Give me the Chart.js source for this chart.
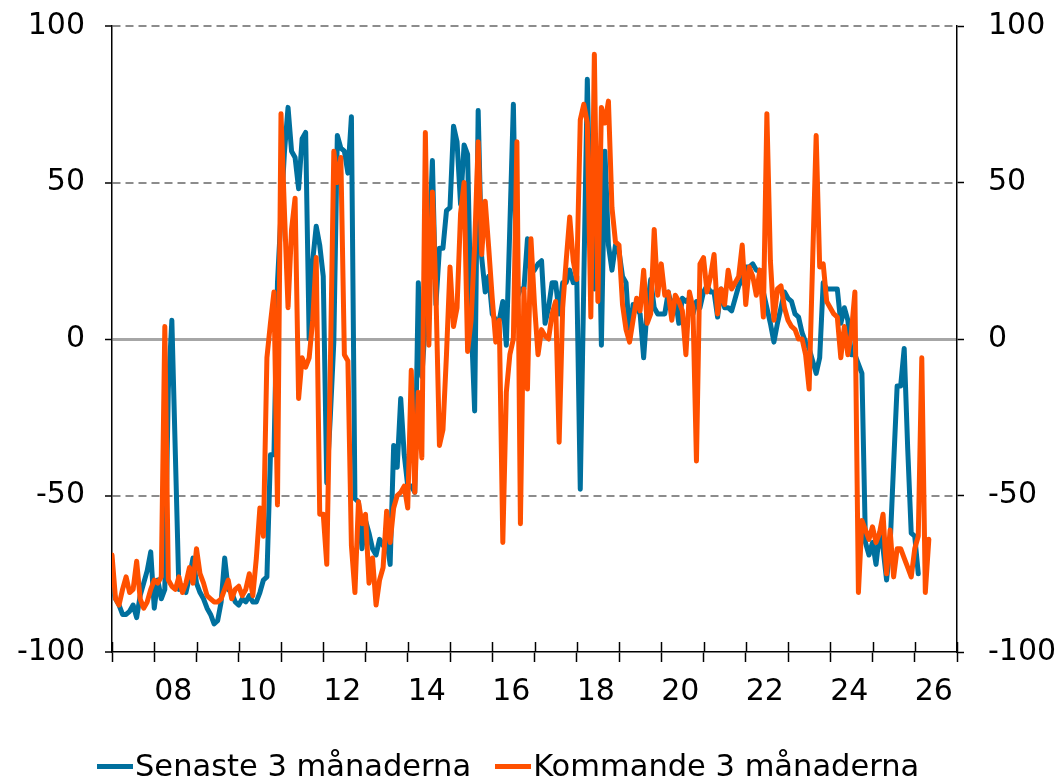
<!DOCTYPE html>
<html>
<head>
<meta charset="utf-8">
<script src="https://cdn.jsdelivr.net/npm/chart.js@4.4.1/dist/chart.umd.min.js"></script>
<style>
  html, body { margin: 0; padding: 0; background: #ffffff; }
  #wrap { position: relative; width: 1061px; height: 782px; overflow: hidden; }
  #legend { position: absolute; left: 97px; top: 748px; display: flex; align-items: center;
            font-family: 'DejaVu Sans', Verdana, sans-serif; font-size: 30.5px; line-height: 36px;
            color: #000; white-space: nowrap; }
  .item { display: flex; align-items: center; }
  .item + .item { margin-left: 24px; }
  .swatch { width: 36px; height: 5px; margin-right: 2px; }
</style>
</head>
<body>
<div id="wrap">
  <canvas id="c" width="1061" height="782"></canvas>
  <div id="legend"></div>
</div>
<script>
// ---- data (monthly, first value = January 2007) ----
const START_YEAR = 2007;
const seriesNames = ['Senaste 3 månaderna', 'Kommande 3 månaderna'];
const seriesColors = ['#00709E', '#FF5000'];

const senaste = [
  -79, -83, -85, -88, -88, -87, -85, -89, -82, -78, -74, -68,
  -86, -77, -83, -80, -16, 6, -37, -80, -79, -81, -76, -70,
  -78, -81, -83, -86, -88, -91, -90, -84, -70, -80, -81, -84,
  -85, -83, -84, -82, -84, -84, -81, -77, -76, -37, -37, 18,
  40, 60, 74, 60, 58, 48, 64, 66, 0, 25, 36, 30,
  20, -46, -25, -1, 65, 61, 60, 53, 71, -51, -52, -67,
  -58, -62, -67, -69, -64, -66, -64, -72, -34, -41, -19, -37,
  -47, -47, -49, 18, -12, 5, 28, 57, 11, 29, 29, 41,
  42, 68, 63, 43, 62, 59, 6, -23, 73, 26, 15, 20,
  8, 6, 6, 12, -2, 36, 75, 13, 16, 16, 32, 21,
  22, 24, 25, 5, 10, 18, 18, 8, 18, 18, 22, 18,
  20, -48, 18, 83, 30, 16, 60, -2, 60, 30, 22, 30,
  28, 20, 18, 0, 11, 10, 8, -6, 10, 19, 10, 8,
  8, 8, 15, 10, 13, 5, 13, 12, 13, 8, 12, 10,
  15, 17, 15, 15, 7, 16, 10, 10, 9, 13, 17, 19,
  23, 23, 24, 22, 22, 15, 10, 5, -1, 5, 10, 15,
  13, 12, 8, 7, 2, -1, -3, -7, -11, -6, 18, 16,
  16, 16, 16, 5, 10, 6, -5, -5, -8, -11, -65, -69,
  -65, -72, -62, -67, -77, -66, -40, -15, -15, -3, -35, -62,
  -63, -75
];

const kommande = [
  -69, -83, -85, -80, -76, -81, -80, -71, -83, -86, -84, -80,
  -77, -78, -76, 4, -77, -79, -80, -76, -81, -78, -73, -78,
  -67, -75, -78, -82, -83, -84, -84, -83, -80, -77, -83, -80,
  -79, -82, -80, -75, -82, -70, -54, -63, -6, 5, 15, -53,
  72, 40, 10, 35, 45, -19, -6, -9, -6, 6, 26, -56,
  -56, -72, -10, 60, 50, 58, -5, -7, -66, -81, -52, -59,
  -56, -78, -70, -85, -77, -73, -55, -65, -54, -50, -49, -47,
  -54, -10, -49, -17, -38, 66, -2, 47, 15, -34, -29, -5,
  23, 4, 10, 40, 50, -4, 6, 30, 63, 27, 44, 29,
  13, -1, 6, -65, -17, -5, 0, 63, -59, 16, -16, 32,
  11, -5, 3, 1, 0, 8, 12, -33, 10, 25, 39, 25,
  19, 70, 75, 69, 7, 91, 12, 74, 69, 76, 42, 31,
  30, 11, 3, -1, 6, 13, 9, 22, 5, 8, 35, 14,
  24, 14, 15, 6, 14, 12, 9, -5, 15, 10, -39, 24,
  26, 15, 20, 27, 8, 16, 11, 22, 16, 18, 20, 30,
  11, 23, 20, 14, 22, 7, 72, 25, 6, 16, 17, 10,
  6, 4, 3, 0, 0, -5, -16, 25, 65, 23, 24, 12,
  10, 8, 7, -6, 4, -5, 2, 15, -81, -58, -61, -64,
  -60, -65, -62, -56, -75, -61, -76, -67, -67, -70, -73, -76,
  -67, -63, -6, -81, -64
];

// axis ticks
const yearTicks = [2007, 2008, 2009, 2010, 2011, 2012, 2013, 2014, 2015, 2016, 2017,
                   2018, 2019, 2020, 2021, 2022, 2023, 2024, 2025, 2026, 2027];
const yearLabels = ['', '08', '', '10', '', '12', '', '14', '', '16', '',
                    '18', '', '20', '', '22', '', '24', '', '26', ''];
const yTicks = [-100, -50, 0, 50, 100];

// ---- chart ----
const FONT = "'DejaVu Sans', Verdana, sans-serif";
const toPoints = arr => arr.map((v, i) => ({ x: START_YEAR + i / 12, y: v }));

const innerXTicks = {
  id: 'innerXTicks',
  afterDatasetsDraw(chart) {
    const xs = chart.scales.x;
    const ctx = chart.ctx;
    const bottom = chart.chartArea.bottom;
    ctx.save();
    ctx.strokeStyle = '#000';
    ctx.lineWidth = 1.5;
    xs.ticks.forEach(t => {
      const px = Math.round(xs.getPixelForValue(t.value)) + 0.5;
      ctx.beginPath();
      ctx.moveTo(px, bottom - 10);
      ctx.lineTo(px, bottom);
      ctx.stroke();
    });
    ctx.restore();
  }
};

const yGridColor = c => {
  const v = c.tick ? c.tick.value : null;
  if (v === -100) return 'rgba(0,0,0,0)';
  if (v === 0) return '#A6A6A6';
  return '#8C8C8C';
};
const yGridWidth = c => (c.tick && c.tick.value === 0 ? 3 : 2);
const yGridDash = c => (c.tick && c.tick.value === 0 ? [] : [8, 5]);
const fitY = w => s => { s.width = w; s.paddingTop = 0; s.paddingBottom = 0; };

new Chart(document.getElementById('c'), {
  type: 'line',
  data: {
    datasets: [
      { label: seriesNames[0], data: toPoints(senaste), borderColor: seriesColors[0],
        backgroundColor: seriesColors[0], borderWidth: 5, pointRadius: 0, tension: 0,
        borderJoinStyle: 'round', borderCapStyle: 'round', order: 1 },
      { label: seriesNames[1], data: toPoints(kommande), borderColor: seriesColors[1],
        backgroundColor: seriesColors[1], borderWidth: 5, pointRadius: 0, tension: 0,
        borderJoinStyle: 'round', borderCapStyle: 'round', order: 0 }
    ]
  },
  options: {
    responsive: false,
    animation: false,
    devicePixelRatio: 1,
    layout: { padding: { left: 0, right: 0, top: 26, bottom: 60 } },
    plugins: { legend: { display: false }, tooltip: { enabled: false } },
    scales: {
      x: {
        type: 'linear', min: START_YEAR, max: 2027, position: 'bottom',
        afterBuildTicks: s => { s.ticks = yearTicks.map(v => ({ value: v })); },
        ticks: {
          autoSkip: false, maxRotation: 0, minRotation: 0, labelOffset: 19, padding: 12,
          color: '#000', font: { family: FONT, size: 30 },
          callback: v => { const i = yearTicks.indexOf(v); return i >= 0 ? yearLabels[i] : ''; }
        },
        grid: { drawOnChartArea: false, drawTicks: true, tickLength: 10, tickColor: '#000', tickWidth: 1.5 },
        border: { display: true, color: '#000', width: 1.5 }
      },
      y: {
        position: 'left', min: -100, max: 100,
        afterBuildTicks: s => { s.ticks = yTicks.map(v => ({ value: v })); },
        afterFit: fitY(112),
        ticks: { padding: 20, color: '#000', font: { family: FONT, size: 30 } },
        grid: { color: yGridColor, lineWidth: yGridWidth, tickColor: '#000', tickLength: 7, tickWidth: 1.5 },
        border: { display: true, color: '#000', width: 1.5, dash: yGridDash }
      },
      y2: {
        position: 'right', min: -100, max: 100,
        afterBuildTicks: s => { s.ticks = yTicks.map(v => ({ value: v })); },
        afterFit: fitY(104),
        ticks: { padding: 24, color: '#000', font: { family: FONT, size: 30 } },
        grid: { drawOnChartArea: false, tickColor: '#000', tickLength: 7, tickWidth: 1.5 },
        border: { display: true, color: '#000', width: 1.5 }
      }
    }
  },
  plugins: [innerXTicks]
});

// ---- legend (real text) ----
const legend = document.getElementById('legend');
seriesNames.forEach((name, i) => {
  const item = document.createElement('div');
  item.className = 'item';
  const sw = document.createElement('span');
  sw.className = 'swatch';
  sw.style.background = seriesColors[i];
  const tx = document.createElement('span');
  tx.textContent = name;
  item.appendChild(sw);
  item.appendChild(tx);
  legend.appendChild(item);
});
</script>
</body>
</html>
